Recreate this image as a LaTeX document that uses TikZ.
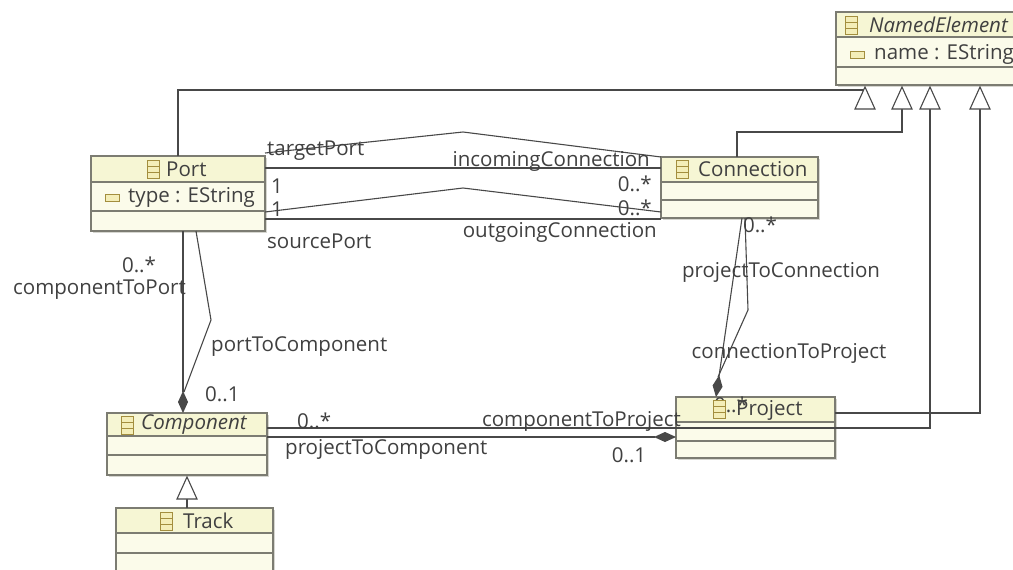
\documentclass[tikz,border=0pt]{standalone}
\usepackage{fontspec}
\setmainfont{Open Sans}
\usetikzlibrary{arrows.meta}

\definecolor{ink}{HTML}{404040}
\definecolor{edge}{HTML}{484848}
\definecolor{boxline}{HTML}{7C7C72}
\definecolor{headfill}{HTML}{F6F6D4}
\definecolor{bodyfill}{HTML}{FBFBEA}
\definecolor{shadowc}{HTML}{D6D6D0}
\definecolor{iconline}{HTML}{A38E3E}
\definecolor{iconfill}{HTML}{F4EEB8}

\tikzset{
  x=1pt, y=-1pt,
  classbox/.style={rectangle, fill=bodyfill, inner sep=0pt, outer sep=0pt},
  rule/.style={draw=boxline, line width=1.1pt},
  lbl/.style={font=\fontsize{20.5}{22}\selectfont, text=ink, inner sep=0pt},
  ilbl/.style={lbl, font=\fontsize{20.5}{22}\selectfont\itshape},
  wire/.style={draw=edge, line width=1.1pt},
  compose/.style={wire, -{Diamond[length=22pt, width=10pt, fill=edge]}},
  genhead/.style={draw=edge, line width=1.1pt, fill=white},
}

% class box: name, left, top, right, bottom, header rule, second rule
\newcommand\eclass[7]{%
  \fill[shadowc] (#2+2,#3+2) rectangle (#4+2,#5+2);
  \node[classbox, minimum width={(#4-#2)*1pt}, minimum height={(#5-#3)*1pt}] (#1) at ({(#2+#4)/2},{(#3+#5)/2}) {};
  \fill[headfill] (#2,#3) rectangle (#4,#6);
  \draw[rule] (#2,#6) -- (#4,#6) (#2,#7) -- (#4,#7);
  \draw[rule] (#1.north west) rectangle (#1.south east);
}
% EClass icon centred at (#1,#2)
\newcommand\clsicon[2]{%
  \draw[draw=iconline, fill=iconfill, line width=0.9pt] (#1-6,#2-9) rectangle (#1+6,#2+9);
  \draw[draw=iconline, line width=0.9pt] (#1-6,#2-3) -- (#1+6,#2-3) (#1-6,#2+3) -- (#1+6,#2+3);
}
% EAttribute icon centred at (#1,#2)
\newcommand\attricon[2]{%
  \draw[draw=iconline, fill=iconfill, line width=0.9pt] (#1-7,#2-3.5) rectangle (#1+7,#2+3.5);
}
% open generalization triangle, apex at (#1,#2)
\newcommand\genarrow[2]{%
  \draw[genhead] (#1,#2) -- (#1+10,#2+22) -- (#1-10,#2+22) -- cycle;
}

\begin{document}
\begin{tikzpicture}
\useasboundingbox (0,0) rectangle (1013,570);
\clip (0,0) rectangle (1013,570);
\fill[white] (0,0) rectangle (1013,570);

% ---------- classes ----------
\eclass{ne}{836}{12}{1045}{85}{37}{67}
\clsicon{851}{25}
\node[ilbl, anchor=west] (ne-title) at (869,25) {NamedElement};
\attricon{857}{55}
\node[lbl, anchor=west] (ne-attr) at (874,54) {name : EString};

\eclass{port}{91}{156}{265}{231}{182}{211}
\clsicon{153}{169}
\node[lbl, anchor=west] (port-title) at (166,169) {Port};
\attricon{112}{198}
\node[lbl, anchor=west] (port-attr) at (128,197) {type : EString};

\eclass{conn}{661}{157}{818}{218}{182}{200}
\clsicon{682}{169}
\node[lbl, anchor=west] (conn-title) at (698,169) {Connection};

\eclass{comp}{107}{413}{267}{475}{436}{455}
\clsicon{127}{425}
\node[ilbl, anchor=west] (comp-title) at (141,425) {Component};

\eclass{proj}{676}{397}{835}{458}{422}{441}
\node[lbl] (proj-mult) at (731,405) {0..*};
\clsicon{719}{409}
\node[lbl, anchor=west] (proj-title) at (736,410) {Project};

\eclass{track}{116}{508}{273}{600}{533}{553}
\clsicon{166}{521}
\node[lbl, anchor=west] (track-title) at (183,521) {Track};

% ---------- anchor points of the generalization heads ----------
\coordinate (gPort) at (865,90);
\coordinate (gConn) at (902,109);
\coordinate (gComp) at (930,109);
\coordinate (gProj) at (980,109);
\coordinate (gTrack) at (187,499);

% ---------- generalizations ----------
\draw[wire] (port.north) |- (gPort);
\draw[wire] (737,0 |- conn.north) -- (737,132) -- (902,132) -- (gConn);
\draw[wire] (comp.east |- 0,428) -- (930,428) -- (gComp);
\draw[wire] (proj.east |- 0,413) -- (980,413) -- (gProj);
\draw[wire] (comp.south |- track.north) -- (gTrack);
\genarrow{865}{87}
\genarrow{902}{87}
\genarrow{930}{87}
\genarrow{980}{87}
\genarrow{187}{477}

% ---------- Port / Connection references ----------
\draw[wire] (port.east |- 0,153) -- (463,132) -- (conn.north west);
\draw[wire] (port.east |- 0,168) -- (conn.west |- 0,168);
\draw[wire] (port.east |- 0,212) -- (463,188) -- (conn.west |- 0,212);
\draw[wire] (port.east |- 0,219) -- (conn.west |- 0,219);
\node[lbl, anchor=west] (l-target) at (267,151) {targetPort};
\node[lbl, anchor=east] (l-incoming) at (650,161) {incomingConnection};
\node[lbl, anchor=west] (l-t1) at (271,186) {1};
\node[lbl, anchor=east] (l-in) at (652,184) {0..*};
\node[lbl, anchor=west] (l-s1) at (271,209) {1};
\node[lbl, anchor=east] (l-out) at (652,208) {0..*};
\node[lbl, anchor=west] (l-source) at (267,241) {sourcePort};
\node[lbl, anchor=east] (l-outgoing) at (657,232) {outgoingConnection};

% ---------- Port / Component references ----------
\draw[compose] (183,0 |- port.south) -- (183,0 |- comp.north);
\draw[wire] (196,0 |- port.south) -- (211,320) -- (184,392);
\node[lbl] (l-cp-mult) at (139,265) {0..*};
\node[lbl, anchor=east] (l-cp) at (186,290) {componentToPort};
\node[lbl, anchor=west] (l-pc) at (211,347) {portToComponent};
\node[lbl, anchor=west] (l-pc-mult) at (205,394) {0..1};

% ---------- Connection / Project references ----------
\draw[compose] (742,0 |- conn.south) -- (716,0 |- proj.north);
\draw[wire] (745,0 |- conn.south) -- (748,310) -- (718,377);
\node[lbl] (l-pcn-mult) at (760,225) {0..*};
\node[lbl] (l-pcn) at (781,272) {projectToConnection};
\node[lbl] (l-cpr) at (789,353) {connectionToProject};

% ---------- Component / Project references ----------
\draw[wire] (comp.east |- 0,428) -- (proj.west |- 0,428);
\draw[compose] (comp.east |- 0,437) -- (proj.west |- 0,437);
\node[lbl, anchor=west] (l-ctp-mult) at (297,421) {0..*};
\node[lbl, anchor=east] (l-ctp) at (681,421) {componentToProject};
\node[lbl, anchor=west] (l-ptc) at (285,449) {projectToComponent};
\node[lbl] (l-ptc-mult) at (629,455) {0..1};
\end{tikzpicture}
\end{document}
